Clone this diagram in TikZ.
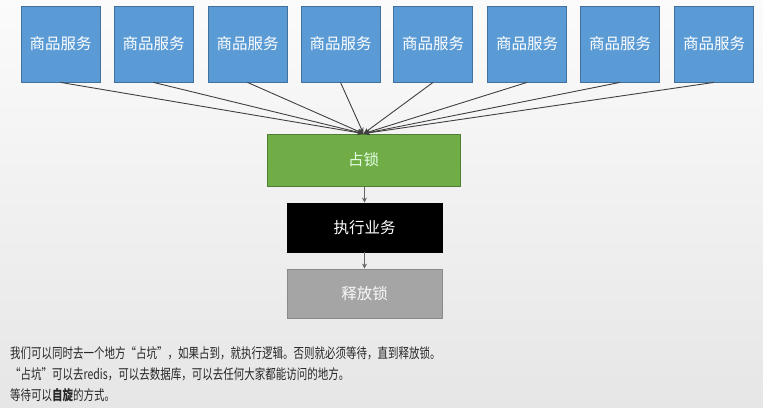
\documentclass[tikz,border=0pt]{standalone}
\usepackage{fontspec}
\setmainfont{Noto Sans CJK SC}
\newfontfamily\cjknarrow[FakeStretch=0.75]{Noto Sans CJK SC}
\usetikzlibrary{arrows.meta}
\definecolor{bluefill}{HTML}{5B9BD5}
\definecolor{blueline}{HTML}{41719C}
\definecolor{greenfill}{HTML}{70AD47}
\definecolor{greenline}{HTML}{507E32}
\definecolor{grayfill}{HTML}{A5A5A5}
\definecolor{grayline}{HTML}{8A8A8A}
\definecolor{linecol}{HTML}{404040}
\definecolor{bgtop}{HTML}{FBFBFB}
\definecolor{bgbot}{HTML}{E6E6E6}
\tikzset{
  svc/.style={draw=blueline, fill=bluefill, line width=0.8pt, minimum width=79pt, minimum height=76pt, inner sep=0pt, text=white, font=\fontsize{15.5}{15.5}\selectfont},
  stepbox/.style={line width=0.8pt, minimum width=155pt, minimum height=49pt, inner sep=0pt, text=white, font=\fontsize{15.5}{15.5}\selectfont},
  conv/.style={draw=linecol, line width=0.9pt, -{Stealth[length=6pt,width=5pt]}},
  flow/.style={draw=linecol!80, line width=0.8pt, -{Stealth[length=5pt,width=5pt]}},
  note/.style={anchor=west, inner sep=0pt, text=black!85, font=\cjknarrow\fontsize{14}{14}\selectfont}
}
\begin{document}
\begin{tikzpicture}[x=1pt,y=-1pt]
\shade[top color=bgtop, bottom color=bgbot] (0,0) rectangle (763,407);
\useasboundingbox (0,0) rectangle (763,407);
\foreach \i/\cx in {1/60.5,2/153.5,3/247.5,4/340.5,5/433,6/527,7/620,8/714}{
  \node[svc] (s\i) at (\cx,44) {商品服务};
}
\node[stepbox, draw=greenline, fill=greenfill, text=white!90!green, minimum width=193pt, minimum height=52pt] (lock) at (363.5,160) {占锁};
\node[stepbox, draw=black, fill=black] (biz) at (364.5,227.5) {执行业务};
\node[stepbox, draw=grayline, fill=grayfill, text=white!95!gray] (rel) at (364.5,293.5) {释放锁};
\foreach \i in {1,...,8}{
  \draw[conv] (s\i.south) -- (lock.north);
}
\draw[flow] (lock.south -| biz.north) -- (biz.north);
\draw[flow] (biz.south) -- (rel.north);
\node[note] (t1) at (10,353) {我们可以同时去一个地方“占坑”，如果占到，就执行逻辑。否则就必须等待，直到释放锁。};
\node[note] (t2) at (10,374) {“占坑”可以去redis，可以去数据库，可以去任何大家都能访问的地方。};
\node[note] (t3) at (10,395) {等待可以\textbf{自旋}的方式。};
\end{tikzpicture}
\end{document}
